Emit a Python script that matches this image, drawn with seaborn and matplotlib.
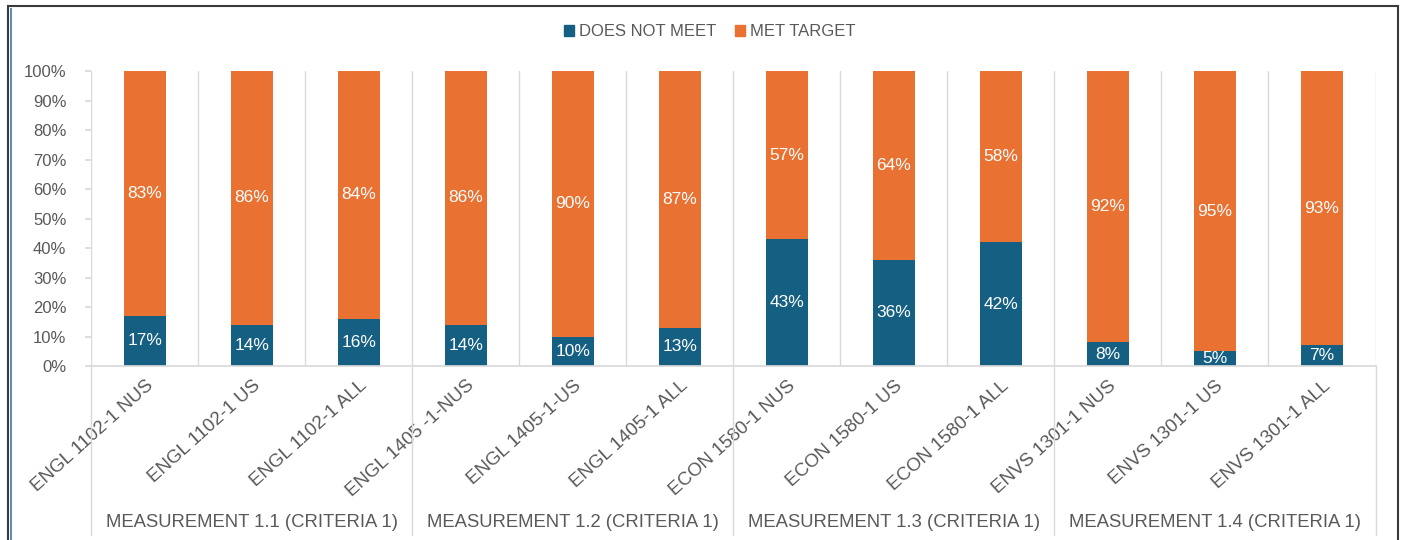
import matplotlib
matplotlib.use("Agg")
import matplotlib.pyplot as plt
import matplotlib.transforms as mtransforms
from matplotlib.patches import Patch, Rectangle
import seaborn as sns
import pandas as pd

# datos
cursos = ["ENGL 1102-1 NUS", "ENGL 1102-1 US", "ENGL 1102-1 ALL",
          "ENGL 1405 -1-NUS", "ENGL 1405-1-US", "ENGL 1405-1 ALL",
          "ECON 1580-1 NUS", "ECON 1580-1 US", "ECON 1580-1 ALL",
          "ENVS 1301-1 NUS", "ENVS 1301-1 US", "ENVS 1301-1 ALL"]
no_cumple = [17, 14, 16, 14, 10, 13, 43, 36, 42, 8, 5, 7]
cumple = [83, 86, 84, 86, 90, 87, 57, 64, 58, 92, 95, 93]
grupos = ["MEASUREMENT 1.1 (CRITERIA 1)", "MEASUREMENT 1.2 (CRITERIA 1)",
          "MEASUREMENT 1.3 (CRITERIA 1)", "MEASUREMENT 1.4 (CRITERIA 1)"]

df = pd.DataFrame({"curso": cursos, "no_cumple": no_cumple, "cumple": cumple})
df["total"] = df["no_cumple"] + df["cumple"]

AZUL = "#156082"
NARANJA = "#E97132"
GRIS = "#595959"
LINEA = "#D9D9D9"

sns.set_theme(style="white")
plt.rcParams["font.family"] = ["Liberation Sans", "DejaVu Sans"]

fig = plt.figure(figsize=(14.03, 5.40), dpi=100)
ax = fig.add_axes([0.0652, 0.3222, 0.9152, 0.5463])

# barras apiladas: total (naranja) y debajo la parte que no cumple (azul)
sns.barplot(data=df, x="curso", y="total", color=NARANJA, width=0.39,
            saturation=1, ax=ax, linewidth=0)
sns.barplot(data=df, x="curso", y="no_cumple", color=AZUL, width=0.39,
            saturation=1, ax=ax, linewidth=0)

# etiquetas de porcentaje
for i, (a, b) in enumerate(zip(no_cumple, cumple)):
    ax.text(i, a / 2, f"{a}%", ha="center", va="center", color="white", fontsize=12.5)
    ax.text(i, a + b / 2, f"{b}%", ha="center", va="center", color="white", fontsize=12.5)

ax.set_xlim(-0.5, len(cursos) - 0.5)
ax.set_ylim(0, 100)
ax.set_yticks(range(0, 101, 10))
ax.set_yticklabels([f"{v}%" for v in range(0, 101, 10)], color=GRIS, fontsize=12)
ax.set_xlabel("")
ax.set_ylabel("")

# lineas verticales entre categorias
for x in [i - 0.5 for i in range(len(cursos) + 1)]:
    ax.axvline(x, color=LINEA, linewidth=1, zorder=0)

for s in ["top", "right", "left"]:
    ax.spines[s].set_visible(False)
ax.spines["bottom"].set_color(LINEA)
ax.tick_params(axis="y", length=4, color=LINEA, pad=14, left=True)
ax.tick_params(axis="x", length=0, pad=8)

ax.set_xticks(range(len(cursos)))
ax.set_xticklabels(cursos, rotation=42, ha="right", va="top",
                   rotation_mode="anchor", color=GRIS, fontsize=13.5)

# separadores y etiquetas de grupo
trans = mtransforms.blended_transform_factory(ax.transData, ax.transAxes)
for x in [-0.5, 2.5, 5.5, 8.5, 11.5]:
    ax.plot([x, x], [0, -0.573], transform=trans, color=LINEA, linewidth=1, clip_on=False)
for g, nombre in enumerate(grupos):
    ax.text(g * 3 + 1, -0.53, nombre, transform=trans, ha="center", va="center",
            color=GRIS, fontsize=13.3)

# leyenda
handles = [Patch(color=AZUL, label="DOES NOT MEET"), Patch(color=NARANJA, label="MET TARGET")]
fig.legend(handles=handles, loc="center", bbox_to_anchor=(0.506, 0.941), ncol=2,
           frameon=False, handlelength=0.6, handleheight=0.6, handletextpad=0.3,
           columnspacing=1.1, fontsize=12, labelcolor=GRIS)

# marco exterior
fig.patches.append(Rectangle((8 / 1403, -0.05), 1390 / 1403, 1.05 - 6 / 540,
                             transform=fig.transFigure, fill=False,
                             edgecolor="#3a3a3a", linewidth=1.5))
fig.patches.append(Rectangle((11 / 1403, -0.05), 0, 1.05 - 8 / 540,
                             transform=fig.transFigure, fill=False,
                             edgecolor="#5b8db8", linewidth=1.2))

fig.savefig("out.png", dpi=100)
